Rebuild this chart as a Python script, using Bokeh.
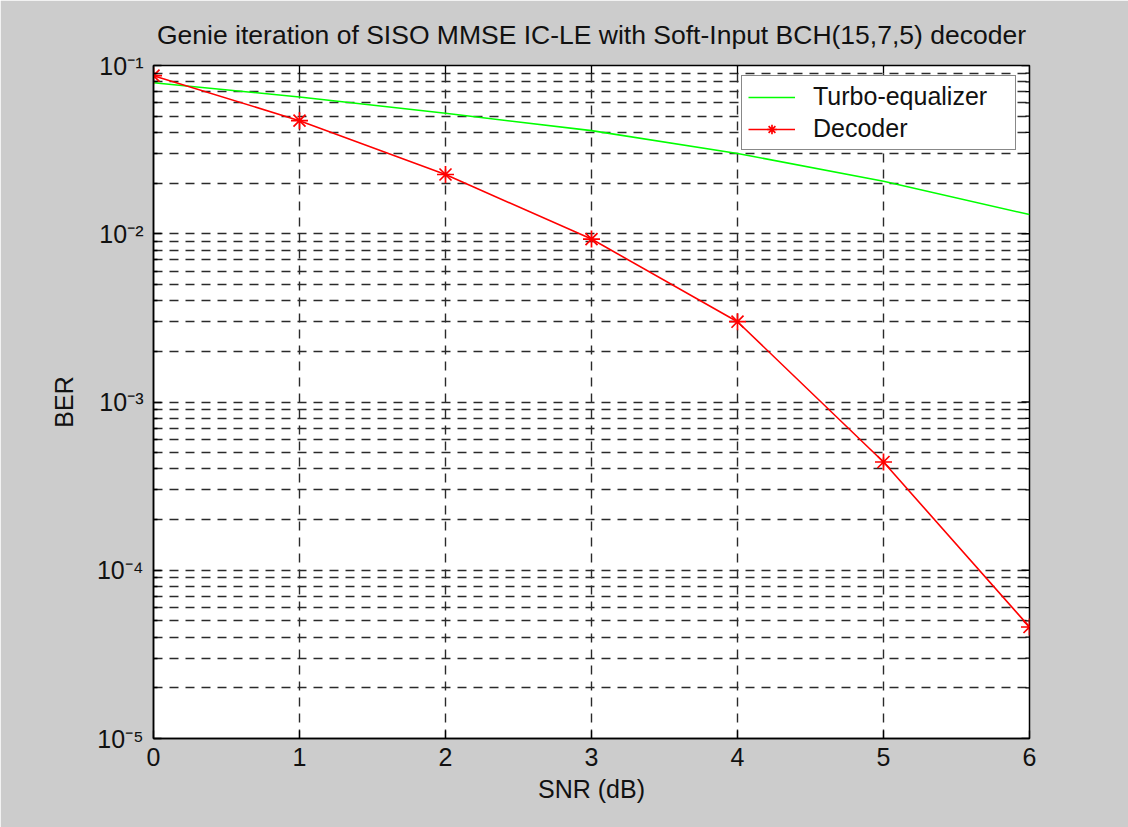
import math
from bokeh.plotting import figure
from bokeh.models import Range1d, FixedTicker, Legend, LegendItem, CustomJSTickFormatter
from bokeh.embed import file_html
from bokeh.resources import INLINE

# ---- data ----
snr = [0, 1, 2, 3, 4, 5, 6]
ber_turbo = [0.079, 0.065, 0.052, 0.041, 0.030, 0.0205, 0.013]
ber_decoder = [0.087, 0.047, 0.0225, 0.0093, 0.0030, 0.00044, 0.000046]
x_ticks = [0, 1, 2, 3, 4, 5, 6]
y_ticks = [1e-5, 1e-4, 1e-3, 1e-2, 1e-1]
y_minor = [m * d for d in [1e-5, 1e-4, 1e-3, 1e-2] for m in range(2, 10)]

title_text = "Genie iteration of SISO MMSE IC-LE with Soft-Input BCH(15,7,5) decoder"
FONT = "Liberation Sans"
FS = "25px"
TXT = "#111111"

X0, X1 = 0, 6
Y0, Y1 = 1e-5, 1e-1
FRAME_W, FRAME_H = 876, 673

p = figure(width=1128, height=827, y_axis_type="log",
           x_range=Range1d(X0, X1), y_range=Range1d(Y0, Y1),
           output_backend="svg", toolbar_location=None,
           min_border_left=153, min_border_right=99,
           min_border_top=65, min_border_bottom=89)
p.border_fill_color = "#cccccc"
p.background_fill_color = "white"
p.outline_line_color = "black"
p.outline_line_width = 1.5

p.title.text = title_text
p.title.text_font = FONT
p.title.text_font_size = "26.5px"
p.title.text_font_style = "normal"
p.title.align = "center"
p.title.text_color = TXT
p.title.standoff = 31

xt = FixedTicker(ticks=x_ticks)
yt = FixedTicker(ticks=y_ticks, minor_ticks=y_minor)

sup_js = """
const e = Math.round(Math.log10(tick));
const m = {'-':'\u207b','0':'\u2070','1':'\u00b9','2':'\u00b2','3':'\u00b3','4':'\u2074','5':'\u2075','6':'\u2076','7':'\u2077','8':'\u2078','9':'\u2079'};
return '10' + String(e).split('').map(c => m[c]).join('');
"""

def style_axis(ax):
    ax.axis_line_color = "black"
    ax.axis_line_width = 1.5
    ax.major_tick_in = 8
    ax.major_tick_out = 0
    ax.minor_tick_in = 4
    ax.minor_tick_out = 0
    ax.major_tick_line_color = "black"
    ax.major_tick_line_width = 1.3
    ax.minor_tick_line_color = "black"
    ax.minor_tick_line_width = 1.3
    ax.major_label_text_font = FONT
    ax.major_label_text_font_size = FS
    ax.major_label_text_color = TXT
    ax.axis_label_text_font = FONT
    ax.axis_label_text_font_size = FS
    ax.axis_label_text_font_style = "normal"
    ax.axis_label_text_color = TXT

xa = p.xaxis[0]
xa.ticker = xt
xa.axis_label = "SNR (dB)"
style_axis(xa)
xa.major_label_standoff = 9
xa.axis_label_standoff = 6

ya = p.yaxis[0]
ya.ticker = yt
ya.formatter = CustomJSTickFormatter(code=sup_js)
ya.axis_label = "BER"
style_axis(ya)
ya.major_label_standoff = 10
ya.axis_label_standoff = 16

GRID = "#2a2a2a"
for g in (p.xgrid[0], p.ygrid[0]):
    g.grid_line_color = GRID
    g.grid_line_dash = "9 7"
    g.grid_line_width = 1.4
p.xgrid[0].ticker = xt
p.ygrid[0].ticker = yt
p.ygrid[0].minor_grid_line_color = GRID
p.ygrid[0].minor_grid_line_dash = "9 7"
p.ygrid[0].minor_grid_line_width = 1.4

# inward tick marks on the top and right edges of the box (MATLAB "box on")
px_x = (X1 - X0) / FRAME_W
px_ly = (math.log10(Y1) - math.log10(Y0)) / FRAME_H
top_x = list(x_ticks)
top_y0 = [Y1] * len(top_x)
top_y1 = [Y1 / 10 ** (8 * px_ly)] * len(top_x)
p.segment(top_x, top_y0, top_x, top_y1, line_color="black", line_width=1.3)
right_y = list(y_ticks) + list(y_minor)
right_len = [8] * len(y_ticks) + [4] * len(y_minor)
p.segment([X1] * len(right_y), right_y, [X1 - L * px_x for L in right_len], right_y,
          line_color="black", line_width=1.3)

r_turbo = p.line(snr, ber_turbo, line_color="#00ff00", line_width=1.6)
r_dec_line = p.line(snr, ber_decoder, line_color="#ff0000", line_width=1.6)
r_dec_mark = p.scatter(snr, ber_decoder, marker="asterisk", size=17,
                       line_color="#ff0000", line_width=1.7)

legend = Legend(items=[LegendItem(label="Turbo-equalizer", renderers=[r_turbo]),
                       LegendItem(label="Decoder", renderers=[r_dec_line, r_dec_mark])],
                location=(588, 588))
legend.label_text_font = FONT
legend.label_text_font_size = FS
legend.label_text_color = TXT
legend.border_line_color = "#111111"
legend.border_line_width = 1.3
legend.background_fill_color = "white"
legend.background_fill_alpha = 1.0
legend.padding = 6
legend.spacing = 3
legend.glyph_width = 47
legend.glyph_height = 24
legend.label_height = 24
legend.label_standoff = 18
legend.label_width = 196
legend.margin = 0
p.add_layout(legend, "center")

open("out.html", "w").write(file_html(p, INLINE))
